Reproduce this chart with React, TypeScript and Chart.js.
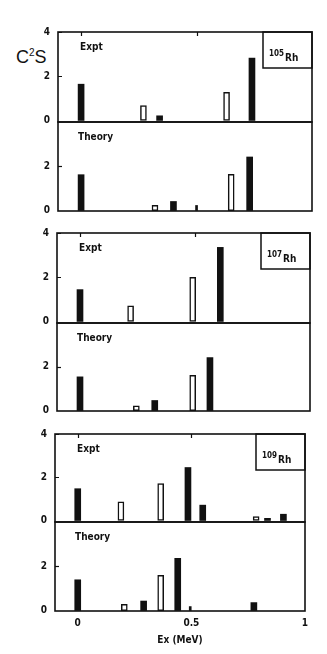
import React, { useEffect, useRef } from "react";
import { Chart, registerables } from "chart.js";

Chart.register(...registerables);

const FONT = "'Liberation Sans Narrow', 'DejaVu Sans Condensed', 'Liberation Sans', Arial, sans-serif";

// ---------- labels / ticks ----------
const isotopeMasses = ["105", "107", "109"];
const elementSymbol = "Rh";
const panelNames = ["Expt", "Theory"];
const xTickValues = [0, 0.5, 1];
const xTickLabels = ["0", "0.5", "1"];
const exptYTicks = [0, 2, 4];
const theoryYTicks = [0, 2];
const xAxisTitle = "Ex (MeV)";
const yAxisTitle = "C";

// ---------- data: excitation energy (MeV) and C2S ----------
// 105Rh
const rh105ExptFilledEx = [0.0, 0.34, 0.74];
const rh105ExptFilledC2S = [1.64, 0.21, 2.82];
const rh105ExptOpenEx = [0.27, 0.63];
const rh105ExptOpenC2S = [0.67, 1.27];
const rh105TheoryFilledEx = [0.0, 0.4, 0.73];
const rh105TheoryFilledC2S = [1.62, 0.41, 2.42];
const rh105TheoryOpenEx = [0.32, 0.65];
const rh105TheoryOpenC2S = [0.24, 1.64];
const rh105TheoryThinEx = [0.5];
const rh105TheoryThinC2S = [0.23];

// 107Rh
const rh107ExptFilledEx = [0.0, 0.61];
const rh107ExptFilledC2S = [1.44, 3.35];
const rh107ExptOpenEx = [0.22, 0.49];
const rh107ExptOpenC2S = [0.71, 2.0];
const rh107TheoryFilledEx = [0.0, 0.325, 0.565];
const rh107TheoryFilledC2S = [1.54, 0.46, 2.42];
const rh107TheoryOpenEx = [0.245, 0.49];
const rh107TheoryOpenC2S = [0.22, 1.61];

// 109Rh
const rh109ExptFilledEx = [0.0, 0.485, 0.55, 0.835, 0.905];
const rh109ExptFilledC2S = [1.47, 2.45, 0.71, 0.1, 0.29];
const rh109ExptOpenEx = [0.19, 0.365, 0.785];
const rh109ExptOpenC2S = [0.86, 1.71, 0.18];
const rh109TheoryFilledEx = [0.0, 0.29, 0.44, 0.775];
const rh109TheoryFilledC2S = [1.39, 0.43, 2.36, 0.36];
const rh109TheoryOpenEx = [0.205, 0.365];
const rh109TheoryOpenC2S = [0.28, 1.59];
const rh109TheoryThinEx = [0.495];
const rh109TheoryThinC2S = [0.18];

const X_MIN = -0.1;
const X_MAX = 1.0;
const Y_MAX = 4;

type Pt = { x: number; y: number };
const zip = (xs: number[], ys: number[]): Pt[] => xs.map((x, i) => ({ x, y: ys[i] }));

// ---------- layout (pixels) ----------
const groupFrames = [
  { left: 58, right: 312, top: 32, mid: 122, bottom: 211 },
  { left: 57, right: 310, top: 233, mid: 323, bottom: 411 },
  { left: 55, right: 305, top: 434, mid: 522, bottom: 611 },
];

const YW = 18; // y axis width
const PT = 15; // top padding
const PR = 10; // right padding
const PB = 15; // bottom padding
const XH = 39; // x axis height (bottom-most panel)

type PanelSpec = {
  key: string;
  left: number;
  top: number;
  width: number;
  height: number;
  name: string;
  nameDx: number;
  isotope: string | null;
  filled: Pt[];
  open: Pt[];
  thin: Pt[];
  yTicks: number[];
  yMin: number;
  showX: boolean;
};

const groupData = [
  {
    expt: [zip(rh105ExptFilledEx, rh105ExptFilledC2S), zip(rh105ExptOpenEx, rh105ExptOpenC2S), [] as Pt[]],
    theory: [zip(rh105TheoryFilledEx, rh105TheoryFilledC2S), zip(rh105TheoryOpenEx, rh105TheoryOpenC2S), zip(rh105TheoryThinEx, rh105TheoryThinC2S)],
  },
  {
    expt: [zip(rh107ExptFilledEx, rh107ExptFilledC2S), zip(rh107ExptOpenEx, rh107ExptOpenC2S), [] as Pt[]],
    theory: [zip(rh107TheoryFilledEx, rh107TheoryFilledC2S), zip(rh107TheoryOpenEx, rh107TheoryOpenC2S), [] as Pt[]],
  },
  {
    expt: [zip(rh109ExptFilledEx, rh109ExptFilledC2S), zip(rh109ExptOpenEx, rh109ExptOpenC2S), [] as Pt[]],
    theory: [zip(rh109TheoryFilledEx, rh109TheoryFilledC2S), zip(rh109TheoryOpenEx, rh109TheoryOpenC2S), zip(rh109TheoryThinEx, rh109TheoryThinC2S)],
  },
];

const panels: PanelSpec[] = [];
groupFrames.forEach((f, gi) => {
  const d = groupData[gi];
  panels.push({
    key: `e${gi}`,
    left: f.left,
    top: f.top,
    width: f.right - f.left,
    height: f.mid - f.top,
    name: panelNames[0],
    nameDx: 22,
    isotope: isotopeMasses[gi],
    filled: d.expt[0],
    open: d.expt[1],
    thin: d.expt[2],
    yTicks: exptYTicks,
    yMin: -0.07,
    showX: false,
  });
  panels.push({
    key: `t${gi}`,
    left: f.left,
    top: f.mid,
    width: f.right - f.left,
    height: f.bottom - f.mid,
    name: panelNames[1],
    nameDx: 20,
    isotope: null,
    filled: d.theory[0],
    open: d.theory[1],
    thin: d.theory[2],
    yTicks: theoryYTicks,
    yMin: -0.02,
    showX: gi === groupFrames.length - 1,
  });
});

function Panel({ spec }: { spec: PanelSpec }) {
  const ref = useRef<HTMLCanvasElement | null>(null);
  const cw = spec.width + YW + PR;
  const ch = spec.height + PT + (spec.showX ? XH : PB);

  useEffect(() => {
    if (!ref.current) return;
    const decor = {
      id: "decor",
      afterDatasetsDraw(chart: any) {
        const { ctx, chartArea: a, scales } = chart;
        ctx.save();
        ctx.strokeStyle = "#111";
        ctx.fillStyle = "#111";
        ctx.lineWidth = 1.6;
        ctx.strokeRect(a.left, a.top, a.right - a.left, a.bottom - a.top);
        ctx.lineWidth = 1.2;
        ctx.beginPath();
        for (const v of spec.yTicks) {
          if (v <= 0) continue;
          const y = Math.round(scales.y.getPixelForValue(v)) + 0.5;
          ctx.moveTo(a.left, y);
          ctx.lineTo(a.left + 4, y);
        }
        if (spec.isotope) {
          for (const v of [0, 0.5]) {
            const x = Math.round(scales.x.getPixelForValue(v)) + 0.5;
            ctx.moveTo(x, a.top);
            ctx.lineTo(x, a.top + 4);
          }
        }
        ctx.stroke();
        ctx.font = `bold 10px ${FONT}`;
        ctx.textAlign = "left";
        ctx.textBaseline = "middle";
        ctx.fillText(spec.name, a.left + spec.nameDx, a.top + 15);
        if (spec.isotope) {
          const bw = 49;
          const bh = 36;
          ctx.lineWidth = 1.5;
          ctx.strokeRect(a.right - bw, a.top, bw, bh);
          ctx.textBaseline = "alphabetic";
          ctx.font = `bold 8px ${FONT}`;
          const x0 = a.right - bw + 6;
          ctx.fillText(spec.isotope, x0, a.top + 24);
          const w = ctx.measureText(spec.isotope).width;
          ctx.font = `bold 10px ${FONT}`;
          ctx.fillText(elementSymbol, x0 + w + 1, a.top + 29);
        }
        ctx.restore();
      },
    };

    const xScale: any = {
      type: "linear",
      min: X_MIN,
      max: X_MAX,
      offset: false,
      display: spec.showX,
      grid: { display: false, drawTicks: false },
      border: { display: false },
      afterBuildTicks: (axis: any) => {
        axis.ticks = xTickValues.map((v) => ({ value: v }));
      },
      ticks: {
        padding: 6,
        color: "#111",
        font: { family: FONT, size: 10, weight: "bold" },
        maxRotation: 0,
        callback: (v: any) => {
          const i = xTickValues.indexOf(Number(v));
          return i >= 0 ? xTickLabels[i] : "";
        },
      },
      title: {
        display: true,
        text: xAxisTitle,
        color: "#111",
        font: { family: FONT, size: 10, weight: "bold" },
        padding: { top: 0, bottom: 4 },
      },
    };
    if (spec.showX) {
      xScale.afterFit = (axis: any) => {
        axis.height = XH;
      };
    }

    const chart = new Chart(ref.current, {
      type: "bar",
      data: {
        datasets: [
          {
            label: "filled",
            data: spec.filled as any,
            backgroundColor: "#111",
            borderColor: "#111",
            borderWidth: 0,
            barThickness: 6,
            grouped: false,
          } as any,
          {
            label: "open",
            data: spec.open as any,
            backgroundColor: "#fff",
            borderColor: "#111",
            borderWidth: 1.5,
            borderSkipped: false,
            barThickness: 6,
            grouped: false,
          } as any,
          {
            label: "thin",
            data: spec.thin as any,
            backgroundColor: "#111",
            borderWidth: 0,
            barThickness: 2,
            grouped: false,
          } as any,
        ],
      },
      options: {
        responsive: false,
        animation: false,
        devicePixelRatio: 1,
        layout: { padding: { left: 0, top: PT, right: PR, bottom: spec.showX ? 0 : PB } },
        plugins: { legend: { display: false }, tooltip: { enabled: false }, title: { display: false } },
        scales: {
          x: xScale,
          y: {
            type: "linear",
            min: spec.yMin,
            max: Y_MAX,
            grid: { display: false, drawTicks: false },
            border: { display: false },
            afterBuildTicks: (axis: any) => {
              axis.ticks = spec.yTicks.map((v) => ({ value: v }));
            },
            afterFit: (axis: any) => {
              axis.width = YW;
            },
            ticks: {
              padding: 8,
              color: "#111",
              font: { family: FONT, size: 10, weight: "bold" },
              callback: (v: any) => String(v),
            },
          },
        },
      } as any,
      plugins: [decor],
    });
    return () => chart.destroy();
  }, [spec]);

  return (
    <canvas
      ref={ref}
      width={cw}
      height={ch}
      style={{
        position: "absolute",
        left: spec.left - YW,
        top: spec.top - PT,
        width: cw,
        height: ch,
      }}
    />
  );
}

export default function App() {
  return (
    <div
      style={{
        position: "absolute",
        left: 0,
        top: 0,
        width: 327,
        height: 654,
        background: "#fff",
        overflow: "hidden",
      }}
    >
      <div
        style={{
          position: "absolute",
          left: 16,
          top: 43,
          fontFamily: "'Liberation Sans Narrow', 'Liberation Sans', Arial, sans-serif",
          fontSize: 18,
          color: "#111",
          lineHeight: "20px",
        }}
      >
        {yAxisTitle}
        <sup style={{ fontSize: 10, verticalAlign: "7px" }}>2</sup>S
      </div>
      {panels.map((p) => (
        <Panel key={p.key} spec={p} />
      ))}
    </div>
  );
}
